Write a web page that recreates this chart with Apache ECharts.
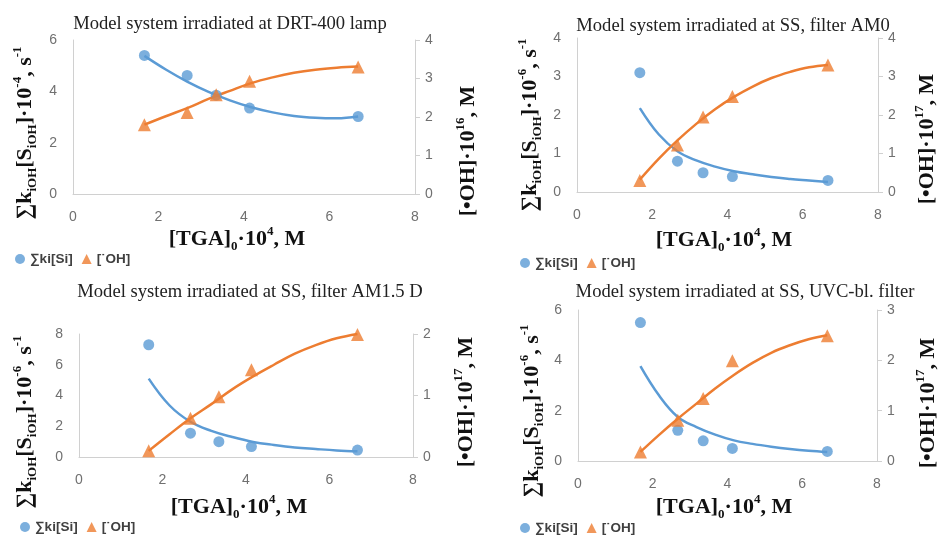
<!DOCTYPE html>
<html><head><meta charset="utf-8">
<script src="https://cdn.jsdelivr.net/npm/echarts@6/dist/echarts.min.js"></script>
<style>html,body{margin:0;padding:0;background:#fff}#c{width:938px;height:536px}</style>
</head><body><div id="c"></div>
<script>
// ---- data ----
const panelTitles = [
  'Model system irradiated at DRT-400 lamp',
  'Model system irradiated at SS, filter AM0',
  'Model system irradiated at SS, filter AM1.5 D',
  'Model system irradiated at SS, UVC-bl. filter'
];
const seriesNames = ['∑ki[Si]', '[˙OH]'];
const leftExp = ['-4', '-6', '-6', '-6'];
const rightExp = ['16', '17', '17', '17'];
const xTicks = [0, 2, 4, 6, 8];
const leftTicks = [[0, 2, 4, 6], [0, 1, 2, 3, 4], [0, 2, 4, 6, 8], [0, 2, 4, 6]];
const rightTicks = [[0, 1, 2, 3, 4], [0, 1, 2, 3, 4], [0, 1, 2], [0, 1, 2, 3]];

const tgaX = [1.67, 2.67, 3.35, 4.13, 6.67];
const p1Ki = [5.4, 4.62, 3.85, 3.35, 3.02];
const p1OH = [1.8, 2.12, 2.58, 2.93, 3.3];
const p2Ki = [3.1, 0.8, 0.5, 0.4, 0.3];
const p2OH = [0.3, 1.22, 1.95, 2.48, 3.3];
const p3Ki = [7.3, 1.55, 1.0, 0.68, 0.45];
const p3OH = [0.1, 0.63, 0.98, 1.42, 1.99];
const p4Ki = [5.5, 1.22, 0.8, 0.5, 0.38];
const p4OH = [0.18, 0.81, 1.24, 1.99, 2.49];

// trend lines
const trendX = [1.67, 2.17, 2.67, 3.17, 3.67, 4.17, 4.67, 5.17, 5.67, 6.17, 6.67];
const p1KiTrend = [5.38, 4.85, 4.38, 3.98, 3.65, 3.38, 3.18, 3.04, 2.97, 2.95, 3.02];
const p1OHTrend = [1.8, 2.02, 2.23, 2.47, 2.68, 2.88, 3.03, 3.15, 3.23, 3.28, 3.31];
const p2KiTrend = [2.18, 1.5, 1.06, 0.82, 0.66, 0.54, 0.46, 0.39, 0.34, 0.3, 0.26];
const p2OHTrend = [0.32, 0.86, 1.34, 1.77, 2.15, 2.47, 2.74, 2.96, 3.12, 3.24, 3.3];
const p3KiTrend = [5.1, 3.35, 2.29, 1.7, 1.3, 0.98, 0.78, 0.62, 0.52, 0.43, 0.37];
const p3OHTrend = [0.1, 0.37, 0.63, 0.86, 1.1, 1.31, 1.5, 1.68, 1.82, 1.93, 2.0];
const p4KiTrend = [3.77, 2.6, 1.75, 1.35, 1.05, 0.82, 0.68, 0.57, 0.48, 0.41, 0.36];
const p4OHTrend = [0.18, 0.52, 0.84, 1.14, 1.44, 1.71, 1.95, 2.15, 2.3, 2.42, 2.5];

// ---- layout / style ----
const KI = [p1Ki, p2Ki, p3Ki, p4Ki];
const OH = [p1OH, p2OH, p3OH, p4OH];
const KIT = [p1KiTrend, p2KiTrend, p3KiTrend, p4KiTrend];
const OHT = [p1OHTrend, p2OHTrend, p3OHTrend, p4OHTrend];

const grids = [
  {left: 73, top: 40, width: 342, height: 154},
  {left: 577, top: 38, width: 301, height: 154},
  {left: 79, top: 334, width: 334, height: 123},
  {left: 578, top: 310, width: 299, height: 151}
];
const titlePos = [[230, 24], [733, 26], [250, 292], [745, 292]];
const xTitlePos = [[237, 239], [724, 240], [239, 507], [724, 507]];
const leftTitlePos = [[25, 133], [530, 125], [25, 422], [532, 411]];
const rightTitlePos = [[468, 151], [927, 139], [466, 402], [928, 403]];
const legendPos = [[15, 252], [520, 256], [20, 520], [520, 521]];

const BLUE = '#5B9BD5', ORANGE = '#ED7D31';
const SERIF = '"Liberation Serif", "Times New Roman", serif';
const richT = {
  b: {fontFamily: SERIF, fontWeight: 'bold', fontSize: 22, lineHeight: 28, fill: '#111'},
  sub: {fontFamily: SERIF, fontWeight: 'bold', fontSize: 13, lineHeight: 15, verticalAlign: 'bottom', fill: '#111'},
  sup: {fontFamily: SERIF, fontWeight: 'bold', fontSize: 13, lineHeight: 15, verticalAlign: 'top', fill: '#111'}
};

const labelStyle = {color: '#707070', fontFamily: '"Liberation Sans", Arial, sans-serif', fontSize: 14};

const option = {
  animation: false,
  backgroundColor: '#fff',
  grid: [], xAxis: [], yAxis: [], series: [], legend: [], graphic: []
};

for (let i = 0; i < 4; i++) {
  option.grid.push(Object.assign({containLabel: false}, grids[i]));
  option.xAxis.push({
    type: 'value', gridIndex: i, min: xTicks[0], max: xTicks[xTicks.length - 1], interval: xTicks[1] - xTicks[0],
    axisLine: {show: true, onZero: false, lineStyle: {color: '#d0d0d0', width: 1}},
    axisTick: {show: false}, splitLine: {show: false},
    axisLabel: Object.assign({margin: 16}, labelStyle)
  });
  const lt = leftTicks[i], rt = rightTicks[i];
  option.yAxis.push({
    type: 'value', gridIndex: i, position: 'left', min: lt[0], max: lt[lt.length - 1], interval: lt[1] - lt[0],
    axisLine: {show: true, lineStyle: {color: '#d0d0d0', width: 1}},
    axisTick: {show: false}, splitLine: {show: false},
    axisLabel: Object.assign({margin: 16}, labelStyle)
  });
  option.yAxis.push({
    type: 'value', gridIndex: i, position: 'right', min: rt[0], max: rt[rt.length - 1], interval: rt[1] - rt[0],
    axisLine: {show: true, lineStyle: {color: '#d0d0d0', width: 1}},
    axisTick: {show: true, length: 5, lineStyle: {color: '#d0d0d0'}}, splitLine: {show: false},
    axisLabel: Object.assign({margin: 10}, labelStyle)
  });
  const yl = 2 * i, yr = 2 * i + 1;
  option.series.push({
    name: 'trendKi' + i, type: 'line', xAxisIndex: i, yAxisIndex: yl, smooth: 0.4,
    showSymbol: false, silent: true, lineStyle: {color: BLUE, width: 2.5}, z: 2,
    data: trendX.map((x, k) => [x, KIT[i][k]])
  });
  option.series.push({
    name: 'trendOH' + i, type: 'line', xAxisIndex: i, yAxisIndex: yr, smooth: 0.4,
    showSymbol: false, silent: true, lineStyle: {color: ORANGE, width: 2.5}, z: 2,
    data: trendX.map((x, k) => [x, OHT[i][k]])
  });
  option.series.push({
    name: seriesNames[0], type: 'scatter', xAxisIndex: i, yAxisIndex: yl, symbol: 'circle', symbolSize: 11,
    itemStyle: {color: BLUE}, z: 3,
    data: tgaX.map((x, k) => [x, KI[i][k]])
  });
  option.series.push({
    name: seriesNames[1], type: 'scatter', xAxisIndex: i, yAxisIndex: yr, symbol: 'triangle', symbolSize: 13,
    itemStyle: {color: ORANGE}, z: 4,
    data: tgaX.map((x, k) => [x, OH[i][k]])
  });
  option.legend.push({
    left: legendPos[i][0], top: legendPos[i][1], orient: 'horizontal', itemGap: 9, padding: 0,
    itemWidth: 10, itemHeight: 10, selectedMode: false,
    textStyle: {fontFamily: '"Liberation Sans", Arial, sans-serif', fontSize: 13.5, lineHeight: 14, fontWeight: 'bold', color: '#404040'},
    data: [{name: seriesNames[0], icon: 'circle'}, {name: seriesNames[1], icon: 'triangle'}]
  });
  // chart title
  option.graphic.push({
    type: 'text', x: titlePos[i][0], y: titlePos[i][1],
    style: {text: panelTitles[i], align: 'center', verticalAlign: 'middle',
      font: '18.6px ' + SERIF, fill: '#222'}
  });
  // x-axis title
  option.graphic.push({
    type: 'text', x: xTitlePos[i][0], y: xTitlePos[i][1],
    style: {text: '{b|[TGA]}{sub|0}{b|·10}{sup|4}{b|, M}', rich: richT, align: 'center', verticalAlign: 'middle'}
  });
  // left y title
  option.graphic.push({
    type: 'text', x: leftTitlePos[i][0], y: leftTitlePos[i][1], rotation: Math.PI / 2,
    style: {text: '{b|∑k}{sub|iOH}{b|[S}{sub|iOH}{b|]·10}{sup|' + leftExp[i] + '}{b|, s}{sup|-1}', rich: richT,
      align: 'center', verticalAlign: 'middle'}
  });
  // right y title
  option.graphic.push({
    type: 'text', x: rightTitlePos[i][0], y: rightTitlePos[i][1], rotation: Math.PI / 2,
    style: {text: '{b|[•OH]·10}{sup|' + rightExp[i] + '}{b|, M}', rich: richT, align: 'center', verticalAlign: 'middle'}
  });
}

const chart = echarts.init(document.getElementById('c'), null, {renderer: 'canvas'});
chart.setOption(option);
</script>
</body></html>
